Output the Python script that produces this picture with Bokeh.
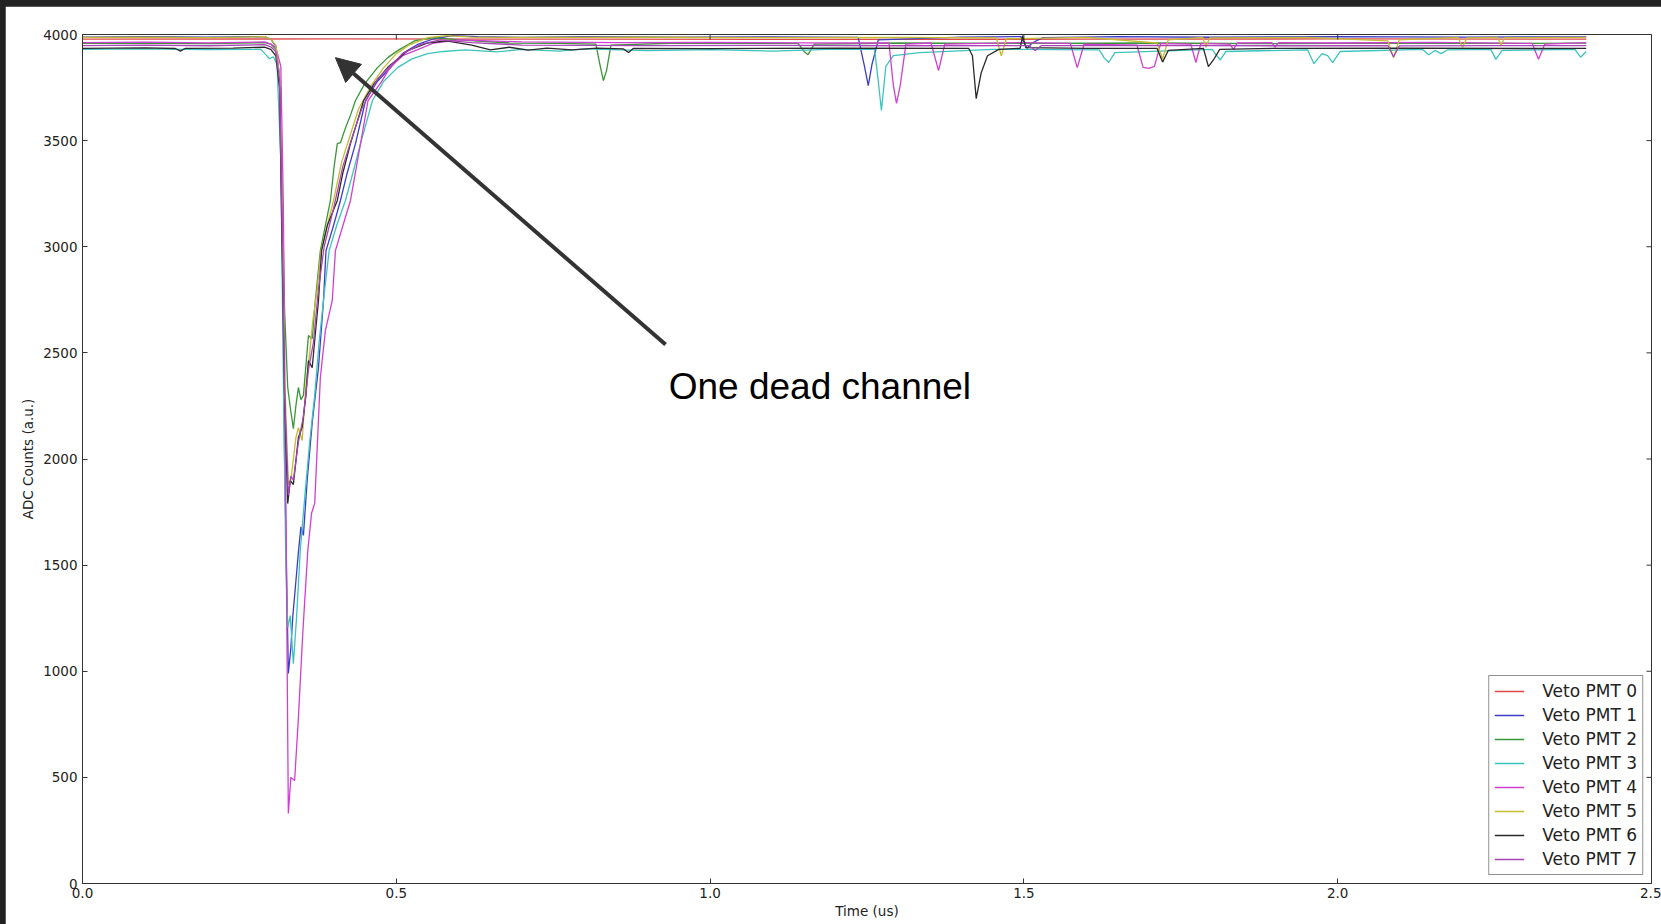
import math

from bokeh.plotting import figure
from bokeh.models import Range1d, FixedTicker, Arrow, NormalHead, Label
from bokeh.layouts import column
from bokeh.embed import file_html
from bokeh.resources import INLINE

# ---- axis ticks -------------------------------------------------------------
x_ticks = [0.0, 0.5, 1.0, 1.5, 2.0, 2.5]
x_tick_labels = ["0.0", "0.5", "1.0", "1.5", "2.0", "2.5"]
y_ticks = [0, 500, 1000, 1500, 2000, 2500, 3000, 3500, 4000]
y_tick_labels = ["0", "500", "1000", "1500", "2000", "2500", "3000", "3500", "4000"]
x_max = 2.5
y_max = 4000

channel_names = ["Veto PMT 0", "Veto PMT 1", "Veto PMT 2", "Veto PMT 3",
                 "Veto PMT 4", "Veto PMT 5", "Veto PMT 6", "Veto PMT 7"]
channel_colors = ["#e04848", "#3c3cc8", "#3a963a", "#3cc4bc",
                  "#d040d0", "#c4bc34", "#2a2a2a", "#a844b4"]

# ---- waveforms: time (us) and ADC counts per channel ------------------------
# PMT 0 never fires (dead channel)
t_pmt0 = [0.000, 0.400, 0.800, 1.200, 1.600, 2.000, 2.396]
v_pmt0 = [3978, 3979, 3978, 3977, 3978, 3979, 3978]

t_pmt1 = [0.000, 0.100, 0.200, 0.290, 0.300, 0.308, 0.314, 0.318, 0.322, 0.328,
          0.332, 0.335, 0.339, 0.344, 0.348, 0.352, 0.358, 0.366, 0.376, 0.384,
          0.388, 0.400, 0.411, 0.422, 0.435, 0.451, 0.470, 0.491, 0.510, 0.535,
          0.560, 0.590, 0.630, 0.700, 0.800, 0.950, 1.100, 1.236, 1.246, 1.252,
          1.258, 1.268, 1.400, 1.495, 1.505, 1.513, 1.530, 1.650, 1.800, 2.000,
          2.200, 2.396]
v_pmt1 = [3988, 3990, 3987, 3990, 3978, 3945, 3800, 3200, 2000, 990,
          1110, 1255, 1390, 1560, 1680, 1640, 1900, 2170, 2431, 2747,
          2982, 3100, 3218, 3350, 3486, 3689, 3780, 3844, 3910, 3955,
          3980, 3995, 3990, 3986, 3990, 3988, 3989, 3986, 3850, 3759,
          3860, 3975, 3988, 3990, 3935, 3960, 3985, 3990, 3987, 3990,
          3988, 3989]

t_pmt2 = [0.000, 0.100, 0.200, 0.290, 0.300, 0.308, 0.313, 0.318, 0.322, 0.327,
          0.331, 0.336, 0.340, 0.344, 0.348, 0.352, 0.360, 0.366, 0.371, 0.379,
          0.387, 0.395, 0.401, 0.406, 0.411, 0.419, 0.427, 0.435, 0.450, 0.470,
          0.486, 0.502, 0.530, 0.560, 0.600, 0.680, 0.760, 0.818, 0.825, 0.830,
          0.835, 0.842, 0.950, 1.140, 1.150, 1.156, 1.166, 1.300, 1.500, 1.700,
          1.900, 2.100, 2.300, 2.396]
v_pmt2 = [3958, 3960, 3957, 3962, 3955, 3930, 3820, 3300, 2700, 2337,
          2245, 2143, 2250, 2337, 2280, 2300, 2582, 2567, 2747, 2982,
          3100, 3218, 3380, 3486, 3490, 3560, 3620, 3689, 3770, 3844,
          3890, 3924, 3971, 3985, 3975, 3960, 3958, 3955, 3850, 3783,
          3830, 3950, 3960, 3958, 3920, 3905, 3955, 3960, 3958, 3960,
          3957, 3960, 3958, 3959]

t_pmt3 = [0.000, 0.100, 0.200, 0.284, 0.292, 0.298, 0.304, 0.310, 0.316, 0.320,
          0.324, 0.327, 0.331, 0.336, 0.341, 0.347, 0.355, 0.362, 0.370, 0.377,
          0.384, 0.393, 0.405, 0.419, 0.431, 0.443, 0.462, 0.480, 0.502, 0.525,
          0.550, 0.575, 0.610, 0.660, 0.700, 0.760, 0.800, 0.900, 1.000, 1.100,
          1.200, 1.262, 1.268, 1.273, 1.280, 1.292, 1.334, 1.450, 1.620, 1.628,
          1.635, 1.645, 1.800, 1.806, 1.813, 1.822, 1.952, 1.962, 1.975, 1.984,
          1.992, 2.004, 2.135, 2.145, 2.155, 2.165, 2.175, 2.244, 2.252, 2.262,
          2.378, 2.387, 2.396]
v_pmt3 = [3930, 3932, 3929, 3930, 3905, 3886, 3895, 3860, 3400, 2400,
          1500, 1206, 1262, 1036, 1250, 1569, 1850, 2080, 2300, 2550,
          2747, 2982, 3100, 3218, 3350, 3486, 3689, 3780, 3844, 3885,
          3910, 3920, 3928, 3918, 3930, 3922, 3932, 3924, 3929, 3922,
          3931, 3930, 3780, 3642, 3850, 3900, 3915, 3930, 3928, 3890,
          3868, 3915, 3930, 3905, 3880, 3920, 3928, 3863, 3910, 3900,
          3868, 3920, 3930, 3905, 3925, 3910, 3928, 3930, 3883, 3925,
          3930, 3893, 3920]

t_pmt4 = [0.000, 0.100, 0.200, 0.290, 0.300, 0.308, 0.316, 0.320, 0.324, 0.328,
          0.332, 0.338, 0.344, 0.351, 0.359, 0.365, 0.370, 0.379, 0.387, 0.398,
          0.403, 0.415, 0.427, 0.443, 0.455, 0.477, 0.490, 0.510, 0.530, 0.560,
          0.600, 0.700, 0.850, 1.000, 1.150, 1.285, 1.292, 1.297, 1.303, 1.312,
          1.352, 1.364, 1.374, 1.500, 1.574, 1.585, 1.596, 1.680, 1.690, 1.699,
          1.708, 1.718, 1.766, 1.774, 1.782, 1.828, 1.834, 1.840, 1.895, 1.900,
          1.906, 2.000, 2.150, 2.310, 2.320, 2.330, 2.396]
v_pmt4 = [3962, 3964, 3961, 3965, 3955, 3940, 3850, 3200, 1800, 330,
          500, 485, 780, 1180, 1569, 1745, 1790, 2384, 2605, 2747,
          2982, 3100, 3218, 3486, 3689, 3780, 3844, 3900, 3924, 3960,
          3975, 3965, 3962, 3963, 3961, 3960, 3760, 3675, 3760, 3955,
          3960, 3830, 3955, 3962, 3958, 3844, 3955, 3950, 3845, 3840,
          3850, 3958, 3955, 3868, 3958, 3955, 3930, 3960, 3962, 3940,
          3962, 3960, 3963, 3958, 3883, 3955, 3962]

t_pmt5 = [0.000, 0.100, 0.200, 0.290, 0.300, 0.308, 0.314, 0.318, 0.322, 0.328,
          0.332, 0.336, 0.340, 0.344, 0.350, 0.356, 0.362, 0.367, 0.374, 0.380,
          0.390, 0.400, 0.413, 0.427, 0.440, 0.460, 0.480, 0.500, 0.520, 0.550,
          0.580, 0.620, 0.700, 0.900, 1.100, 1.300, 1.456, 1.464, 1.472, 1.600,
          1.712, 1.721, 1.730, 1.785, 1.790, 1.796, 1.950, 2.080, 2.089, 2.098,
          2.192, 2.199, 2.206, 2.255, 2.260, 2.266, 2.396]
v_pmt5 = [3986, 3988, 3985, 3990, 3978, 3950, 3800, 3200, 2400, 1880,
          1900, 2000, 2100, 2148, 2087, 2350, 2500, 2652, 2800, 2982,
          3100, 3218, 3400, 3530, 3650, 3760, 3844, 3910, 3950, 3985,
          3995, 3988, 3986, 3987, 3985, 3986, 3984, 3900, 3980, 3986,
          3960, 3885, 3975, 3986, 3940, 3984, 3986, 3970, 3890, 3975,
          3986, 3940, 3984, 3986, 3950, 3985, 3986]

t_pmt6 = [0.000, 0.100, 0.148, 0.156, 0.164, 0.240, 0.290, 0.300, 0.308, 0.314,
          0.318, 0.322, 0.327, 0.331, 0.336, 0.340, 0.344, 0.350, 0.356, 0.360,
          0.366, 0.371, 0.376, 0.381, 0.390, 0.406, 0.415, 0.427, 0.448, 0.465,
          0.486, 0.518, 0.550, 0.580, 0.620, 0.650, 0.680, 0.710, 0.740, 0.780,
          0.820, 0.862, 0.870, 0.878, 1.000, 1.200, 1.412, 1.418, 1.424, 1.432,
          1.442, 1.460, 1.494, 1.498, 1.503, 1.600, 1.712, 1.721, 1.730, 1.786,
          1.794, 1.802, 1.812, 1.900, 2.100, 2.300, 2.396]
v_pmt6 = [3935, 3937, 3934, 3922, 3935, 3936, 3940, 3930, 3900, 3750,
          3000, 2300, 1790, 1898, 1880, 1990, 2101, 2150, 2300, 2464,
          2430, 2591, 2747, 2982, 3100, 3218, 3350, 3486, 3689, 3770,
          3844, 3924, 3960, 3970, 3950, 3928, 3940, 3926, 3936, 3928,
          3936, 3932, 3915, 3935, 3933, 3936, 3935, 3900, 3698, 3820,
          3900, 3930, 3935, 3995, 3938, 3935, 3935, 3870, 3925, 3935,
          3849, 3880, 3930, 3935, 3936, 3934, 3935]

t_pmt7 = [0.000, 0.100, 0.200, 0.290, 0.300, 0.308, 0.314, 0.318, 0.322, 0.328,
          0.332, 0.336, 0.344, 0.352, 0.360, 0.368, 0.376, 0.385, 0.400, 0.415,
          0.430, 0.445, 0.470, 0.490, 0.510, 0.540, 0.570, 0.620, 0.700, 0.900,
          1.100, 1.300, 1.508, 1.518, 1.528, 1.700, 1.900, 2.080, 2.089, 2.098,
          2.250, 2.396]
v_pmt7 = [3948, 3950, 3947, 3952, 3942, 3920, 3780, 3100, 2300, 1830,
          1920, 1900, 2080, 2200, 2420, 2550, 2800, 3000, 3180, 3380,
          3520, 3650, 3790, 3850, 3910, 3955, 3975, 3962, 3950, 3948,
          3949, 3947, 3948, 3925, 3948, 3949, 3947, 3948, 3895, 3946,
          3948, 3948]

times = [t_pmt0, t_pmt1, t_pmt2, t_pmt3, t_pmt4, t_pmt5, t_pmt6, t_pmt7]
counts = [v_pmt0, v_pmt1, v_pmt2, v_pmt3, v_pmt4, v_pmt5, v_pmt6, v_pmt7]

TICK_FONT = "DejaVu Sans"
AXIS_COLOR = "#333333"
TICK_LEN = 5

p = figure(
    width=1656, height=918,
    x_range=Range1d(0, x_max), y_range=Range1d(0, y_max),
    output_backend="svg", toolbar_location=None,
    min_border_left=77, min_border_right=10, min_border_top=28, min_border_bottom=41,
    background_fill_color="white", border_fill_color="white",
)
p.margin = (6, 0, 0, 5)
p.grid.visible = False
p.outline_line_color = AXIS_COLOR
p.outline_line_width = 1

for name, color, tt, vv in zip(channel_names, channel_colors, times, counts):
    p.line(tt, vv, line_color=color, line_width=1.3, legend_label=name)

# inward ticks mirrored on the top and right edges of the frame
p.ray(x=x_ticks, y=[y_max] * len(x_ticks), length=TICK_LEN, length_units="screen",
      angle=-math.pi / 2, line_color=AXIS_COLOR, line_width=1)
p.ray(x=[x_max] * len(y_ticks), y=y_ticks, length=TICK_LEN, length_units="screen",
      angle=math.pi, line_color=AXIS_COLOR, line_width=1)

# bottom / left axes
p.xaxis.ticker = FixedTicker(ticks=x_ticks)
p.xaxis.major_label_overrides = {t: s for t, s in zip(x_ticks, x_tick_labels)}
p.yaxis.ticker = FixedTicker(ticks=y_ticks)
p.yaxis.major_label_overrides = {t: s for t, s in zip(y_ticks, y_tick_labels)}
for ax in (p.xaxis[0], p.yaxis[0]):
    ax.major_tick_in = TICK_LEN
    ax.major_tick_out = 0
    ax.minor_tick_line_color = None
    ax.axis_line_color = AXIS_COLOR
    ax.major_tick_line_color = AXIS_COLOR
    ax.major_label_text_font = TICK_FONT
    ax.major_label_text_font_size = "13.5px"
    ax.major_label_text_color = "#222222"
    ax.axis_label_text_font = TICK_FONT
    ax.axis_label_text_font_size = "13.5px"
    ax.axis_label_text_font_style = "normal"
    ax.axis_label_text_color = "#222222"
p.xaxis.axis_label = "Time (us)"
p.xaxis.major_label_standoff = 4
p.xaxis.axis_label_standoff = 2
p.yaxis.axis_label = "ADC Counts (a.u.)"
p.yaxis.major_label_standoff = 5
p.yaxis.axis_label_standoff = 4

# legend
lg = p.legend[0]
lg.location = "bottom_right"
lg.margin = 8
lg.padding = 5
lg.spacing = 4
lg.label_height = 20
lg.glyph_height = 20
lg.glyph_width = 30
lg.label_standoff = 18
lg.label_text_font = TICK_FONT
lg.label_text_font_size = "17px"
lg.label_text_color = "#222222"
lg.border_line_color = "#222222"
lg.border_line_width = 1.5
lg.background_fill_color = "white"
lg.background_fill_alpha = 1.0

# annotation pointing at the flat channel
p.add_layout(Arrow(
    end=NormalHead(size=24, fill_color="#333333", line_color="#333333", line_width=1),
    x_start=0.929, y_start=2539, x_end=0.403, y_end=3891,
    line_color="#333333", line_width=4,
))
p.add_layout(Label(
    x=0.934, y=2343, text="One dead channel",
    text_font="Liberation Sans", text_font_size="37px",
    text_color="black", text_baseline="alphabetic",
))

root = column(p, styles={"background-color": "#222222"})

with open("out.html", "w") as f:
    f.write(file_html(root, INLINE))
